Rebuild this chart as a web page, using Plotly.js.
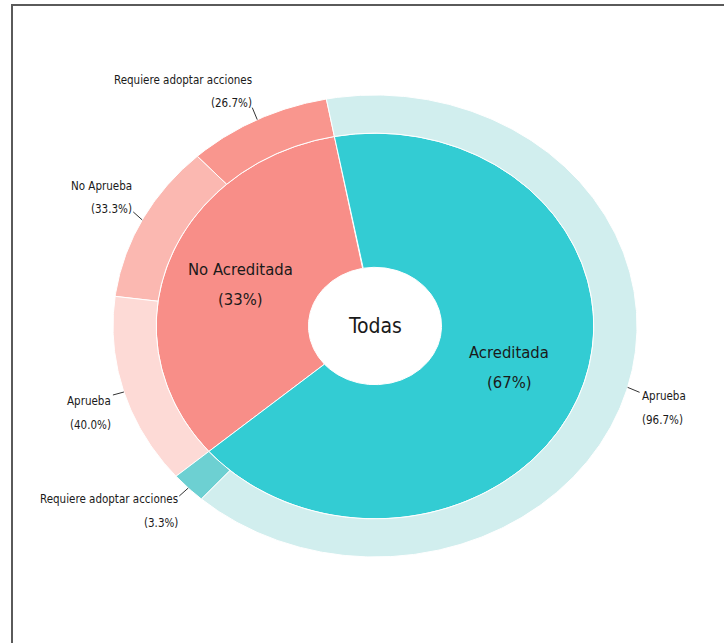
<!DOCTYPE html>
<html>
<head>
<meta charset="utf-8">
<script src="https://cdn.plot.ly/plotly-3.0.1.min.js"></script>
<style>html,body{margin:0;padding:0;background:#fff;}#chart{width:724px;height:643px;}</style>
</head>
<body>
<div id="chart"></div>
<script>
// ---- data ----
const centerLabel = 'Todas';
const categories = ['No Acreditada', 'Acreditada'];
const categoryPct = [33.3, 66.7];
const noAcredLabels = ['Requiere adoptar acciones', 'No Aprueba', 'Aprueba'];
const noAcredPct = [26.7, 33.3, 40.0];
const acredLabels = ['Requiere adoptar acciones', 'Aprueba'];
const acredPct = [3.3, 96.7];

// ---- styles ----
const innerColors = ['#F88E88', '#33CCD3'];
const noAcredColors = ['#F9968E', '#FBB8B1', '#FDDAD6'];
const acredColors = ['#6DD0D2', '#D1EEEE'];
// label placement (pixels relative to the slice edge point): text x, first-line y, leader tail
const noAcredLabelPos = [
  {dx: -3.5, dy: -40, tx: -5, ty: -12, side: 'right'},
  {dx: -8.5, dy: -34, tx: -9, ty: -8, side: 'right'},
  {dx: -11, dy: 9, tx: -11, ty: 3, side: 'right'}
];
const acredLabelPos = [
  {dx: -8.5, dy: 11, tx: -9, ty: 8, side: 'right'},
  {dx: 12, dy: 9, tx: 12, ty: 5, side: 'left'}
];
const START_ANGLE = 100.7;   // degrees counter-clockwise from east
const HOLE = 0.254, INNER_R = 0.835, OUTER_R = 1.0;
const FONT = '"Liberation Sans Narrow", "DejaVu Sans Condensed", "Roboto Condensed", sans-serif';
const TXT = '#1a1a1a';

const rad = d => d * Math.PI / 180;
function sector(a0, a1, r0, r1) {
  const xs = [], ys = [];
  const n = Math.max(2, Math.ceil(Math.abs(a1 - a0) / 0.5));
  for (let i = 0; i <= n; i++) { const a = rad(a0 + (a1 - a0) * i / n); xs.push(r1 * Math.cos(a)); ys.push(r1 * Math.sin(a)); }
  for (let i = n; i >= 0; i--) { const a = rad(a0 + (a1 - a0) * i / n); xs.push(r0 * Math.cos(a)); ys.push(r0 * Math.sin(a)); }
  xs.push(xs[0]); ys.push(ys[0]);
  return {xs, ys};
}

const traces = [], annotations = [], shapes = [];
const children = [
  {labels: noAcredLabels, pct: noAcredPct, colors: noAcredColors, pos: noAcredLabelPos},
  {labels: acredLabels, pct: acredPct, colors: acredColors, pos: acredLabelPos}
];
const total = categoryPct.reduce((s, v) => s + v, 0);
let a = START_ANGLE;
categories.forEach((cat, i) => {
  const span = categoryPct[i] / total * 360;
  const s = sector(a, a + span, HOLE, INNER_R);
  traces.push({type: 'scatter', mode: 'lines', x: s.xs, y: s.ys, fill: 'toself',
    fillcolor: innerColors[i], line: {color: '#ffffff', width: 1}, name: cat,
    hoverinfo: 'text', text: cat + ' (' + Math.round(categoryPct[i]) + '%)'});
  // inner label
  const mid = rad(a + span / 2), rl = 0.65 * INNER_R;
  const lx = rl * Math.cos(mid), ly = rl * Math.sin(mid);
  [[cat, 15], ['(' + Math.round(categoryPct[i]) + '%)', -15]].forEach(([t, sh]) => {
    annotations.push({x: lx, y: ly, xref: 'x', yref: 'y', text: t, showarrow: false,
      xanchor: 'center', yanchor: 'middle', yshift: sh, font: {family: FONT, size: 16.5, color: TXT}});
  });
  // children ring
  const ch = children[i];
  const subTotal = ch.pct.reduce((s2, v) => s2 + v, 0);
  let b = a;
  ch.pct.forEach((v, j) => {
    const sp = v / subTotal * span;
    const so = sector(b, b + sp, INNER_R, OUTER_R);
    traces.push({type: 'scatter', mode: 'lines', x: so.xs, y: so.ys, fill: 'toself',
      fillcolor: ch.colors[j], line: {color: '#ffffff', width: 1}, name: ch.labels[j],
      hoverinfo: 'text', text: ch.labels[j] + ' (' + v.toFixed(1) + '%)'});
    const m = rad(b + sp / 2);
    const hx = OUTER_R * Math.cos(m), hy = OUTER_R * Math.sin(m);
    const p = ch.pos[j];
    [[ch.labels[j], 0], ['(' + v.toFixed(1) + '%)', 23.5]].forEach(([t, off]) => {
      annotations.push({x: hx, y: hy, xref: 'x', yref: 'y', text: t, showarrow: false,
        xanchor: p.side, yanchor: 'middle', align: p.side, xshift: p.dx, yshift: -(p.dy + off),
        font: {family: FONT, size: 11.5, color: TXT}});
    });
    shapes.push({type: 'line', xref: 'x', yref: 'y', xsizemode: 'pixel', ysizemode: 'pixel',
      xanchor: hx, yanchor: hy, x0: 0, y0: 0, x1: p.tx, y1: -p.ty,
      line: {color: '#333333', width: 1}});
    b += sp;
  });
  a += span;
});

annotations.push({x: 0, y: 0, xref: 'x', yref: 'y', text: centerLabel, showarrow: false,
  xanchor: 'center', yanchor: 'middle', font: {family: FONT, size: 21, color: TXT}});

// figure frame
shapes.push({type: 'rect', xref: 'paper', yref: 'paper', x0: 12 / 724, x1: 1.05, y0: -0.05, y1: 1 - 5 / 643,
  line: {color: '#5a5a5a', width: 2}, fillcolor: 'rgba(0,0,0,0)', layer: 'above'});

const W = 724, H = 643, CX = 375, CY = 326, SX = 262, SY = 231;
const layout = {
  width: W, height: H, margin: {l: 0, r: 0, t: 0, b: 0},
  paper_bgcolor: '#ffffff', plot_bgcolor: '#ffffff', showlegend: false,
  xaxis: {range: [-CX / SX, (W - CX) / SX], visible: false, fixedrange: true},
  yaxis: {range: [-(H - CY) / SY, CY / SY], visible: false, fixedrange: true},
  annotations, shapes
};
Plotly.newPlot('chart', traces, layout, {displayModeBar: false, staticPlot: true});
</script>
</body>
</html>
